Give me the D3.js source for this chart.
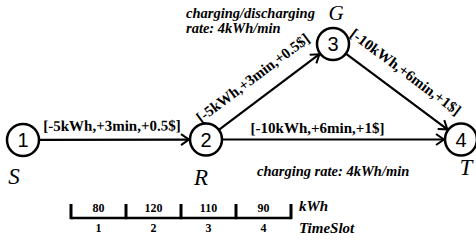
<!DOCTYPE html>
<html><head><meta charset="utf-8">
<script src="https://cdn.jsdelivr.net/npm/d3@7"></script>
<style>body{margin:0;background:#fff}svg{display:block}</style>
</head><body><svg id="c" width="476" height="242"></svg>
<script>
// ---- data ----
const nodeIds = [1, 2, 3, 4];
const nodeNames = ["S", "R", "G", "T"];
const edgeSources = [1, 2, 2, 3];
const edgeTargets = [2, 4, 3, 4];
const edgeLabels = ["[-5kWh,+3min,+0.5$]", "[-10kWh,+6min,+1$]", "[-5kWh,+3min,+0.5$]", "[-10kWh,+6min,+1$]"];
const noteStation = ["charging/discharging", "rate: 4kWh/min"];
const noteRoute = ["charging rate: 4kWh/min"];
const slotLabels = ["1", "2", "3", "4"];
const slotEnergy = [80, 120, 110, 90];
const slotUnit = "kWh";
const slotAxisName = "TimeSlot";

// ---- layout (diagram geometry) ----
const layout = {
  node: {1: [23, 140], 2: [206, 139.5], 3: [333, 44], 4: [461, 139.5]},
  r: 16,
  nameOffset: {1: [-9, 44], 2: [-5, 45.5], 3: [3, -24], 4: [5, 35]},
  nameSize: {1: 23, 2: 23, 3: 21, 4: 23},
  labelOffset: [[-2.5, 9], [-16, 6.5], [-5, 16], [-5, 16]],
  timeline: {x0: 71, x1: 291, y: 218}
};

const svg = d3.select("#c");
const serif = "'Liberation Serif','Times New Roman',serif";
const sans = "'Liberation Sans',Arial,sans-serif";

svg.append("defs").append("marker")
  .attr("id", "arr").attr("markerUnits", "userSpaceOnUse")
  .attr("viewBox", "-10 -7 12 14").attr("refX", 0).attr("refY", 0)
  .attr("markerWidth", 12).attr("markerHeight", 14).attr("orient", "auto")
  .append("path").attr("d", "M-8,-5.5 L0,0 L-8,5.5")
  .attr("fill", "none").attr("stroke", "#000").attr("stroke-width", 2);

const nodes = nodeIds.map((id, i) => ({id, name: nodeNames[i], x: layout.node[id][0], y: layout.node[id][1]}));
const byId = new Map(nodes.map(n => [n.id, n]));
const edges = edgeSources.map((s, i) => ({s: byId.get(s), t: byId.get(edgeTargets[i]), label: edgeLabels[i], off: layout.labelOffset[i]}));

const R = layout.r;
edges.forEach(e => {
  const dx = e.t.x - e.s.x, dy = e.t.y - e.s.y, L = Math.hypot(dx, dy);
  const ux = dx / L, uy = dy / L;
  e.x1 = e.s.x + ux * R; e.y1 = e.s.y + uy * R;
  e.x2 = e.t.x - ux * (R + 1); e.y2 = e.t.y - uy * (R + 1);
  const mx = (e.s.x + e.t.x) / 2, my = (e.s.y + e.t.y) / 2;
  const nx = uy, ny = -ux;
  e.lx = mx + ux * e.off[0] + nx * e.off[1];
  e.ly = my + uy * e.off[0] + ny * e.off[1];
  e.ang = Math.atan2(dy, dx) * 180 / Math.PI;
});

svg.append("g").selectAll("line").data(edges).join("line")
  .attr("x1", d => d.x1).attr("y1", d => d.y1).attr("x2", d => d.x2).attr("y2", d => d.y2)
  .attr("stroke", "#000").attr("stroke-width", 2.2).attr("marker-end", "url(#arr)");

svg.append("g").selectAll("text").data(edges).join("text")
  .attr("transform", d => `translate(${d.lx},${d.ly}) rotate(${d.ang})`)
  .attr("text-anchor", "middle").attr("font-family", serif).attr("font-weight", "bold")
  .attr("font-size", 15).text(d => d.label);

const ng = svg.append("g").selectAll("g").data(nodes).join("g")
  .attr("transform", d => `translate(${d.x},${d.y})`);
ng.append("circle").attr("r", R).attr("fill", "#fff").attr("stroke", "#000").attr("stroke-width", 2.5);
ng.append("text").attr("text-anchor", "middle").attr("dy", 7).attr("font-family", sans)
  .attr("font-size", 20).text(d => d.id);
ng.append("text").attr("text-anchor", "middle")
  .attr("x", d => layout.nameOffset[d.id][0]).attr("y", d => layout.nameOffset[d.id][1])
  .attr("font-family", serif).attr("font-style", "italic")
  .attr("font-size", d => layout.nameSize[d.id]).text(d => d.name);

// notes
const noteG = svg.append("g").attr("font-family", serif).attr("font-weight", "bold")
  .attr("font-style", "italic").attr("font-size", 14.5);
noteG.selectAll("text.st").data(noteStation).join("text").attr("class", "st")
  .attr("x", 186).attr("y", (d, i) => 18 + i * 15).text(d => d);
noteG.selectAll("text.rt").data(noteRoute).join("text").attr("class", "rt")
  .attr("x", 257).attr("y", 176).text(d => d);

// timeline
const tl = layout.timeline;
const xs = d3.scaleBand().domain(slotLabels).range([tl.x0, tl.x1]);
const tg = svg.append("g");
tg.append("line").attr("x1", tl.x0).attr("x2", tl.x1).attr("y1", tl.y).attr("y2", tl.y)
  .attr("stroke", "#000").attr("stroke-width", 2.5);
const bounds = slotLabels.map(s => xs(s)).concat([tl.x1]);
tg.selectAll("line.tk").data(bounds).join("line").attr("class", "tk")
  .attr("x1", d => d).attr("x2", d => d).attr("y1", tl.y - 14).attr("y2", tl.y + 1.2)
  .attr("stroke", "#000").attr("stroke-width", 3);
tg.selectAll("text.v").data(slotEnergy).join("text").attr("class", "v")
  .attr("x", (d, i) => xs(slotLabels[i]) + xs.bandwidth() / 2).attr("y", tl.y - 6)
  .attr("text-anchor", "middle").attr("font-family", serif).attr("font-weight", "bold")
  .attr("font-size", 12).text(d => d);
tg.selectAll("text.s").data(slotLabels).join("text").attr("class", "s")
  .attr("x", d => xs(d) + xs.bandwidth() / 2).attr("y", tl.y + 14)
  .attr("text-anchor", "middle").attr("font-family", serif).attr("font-weight", "bold")
  .attr("font-size", 12).text(d => d);
tg.append("text").attr("x", tl.x1 + 8).attr("y", tl.y - 7).attr("font-family", serif)
  .attr("font-weight", "bold").attr("font-style", "italic").attr("font-size", 15).text(slotUnit);
tg.append("text").attr("x", tl.x1 + 8).attr("y", tl.y + 15).attr("font-family", serif)
  .attr("font-weight", "bold").attr("font-style", "italic").attr("font-size", 15).text(slotAxisName);
</script></body></html>
